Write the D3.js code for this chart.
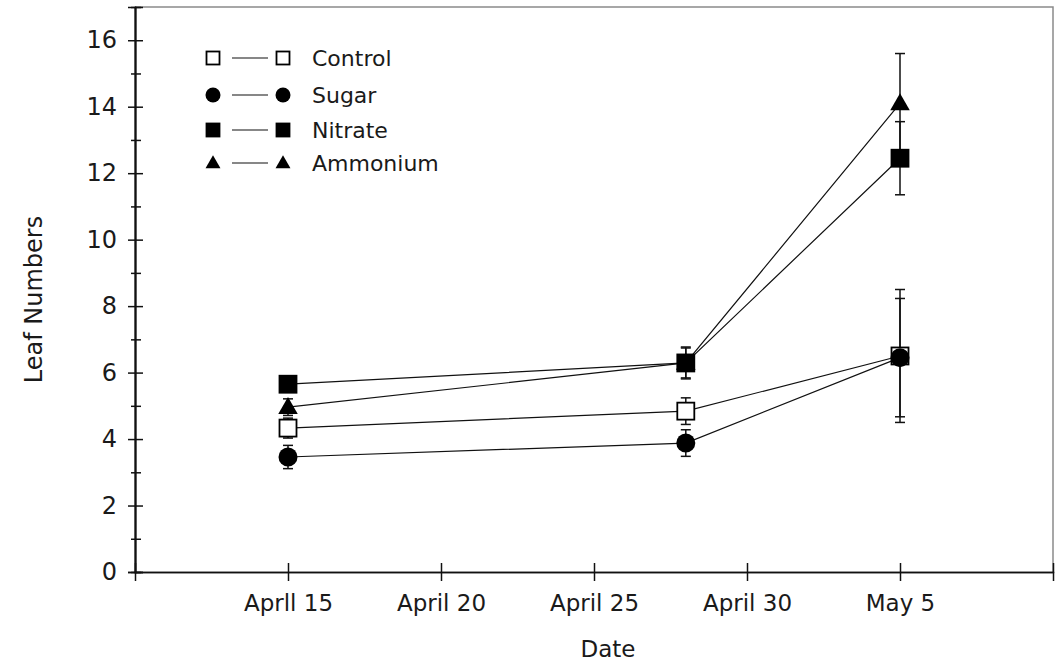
<!DOCTYPE html><html><head><meta charset="UTF-8"><script src="https://d3js.org/d3.v7.min.js"></script><style>
body { margin: 0; background: #fff; }
svg { font-family: "DejaVu Sans", "Noto Sans", sans-serif; }
.lbl { fill: #1a1a1a; }
</style></head><body><div id="chart"></div><script>
const dates = ["1990-04-15", "1990-04-28", "1990-05-05"];
const seriesNames = ["Control", "Sugar", "Nitrate", "Ammonium"];
const control = [4.33, 4.84, 6.5];
const controlErr = [0.3, 0.4, 2.0];
const sugar = [3.46, 3.88, 6.45];
const sugarErr = [0.35, 0.4, 1.78];
const nitrate = [5.65, 6.29, 12.45];
const nitrateErr = [0.2, 0.48, 1.1];
const ammonium = [4.96, 6.29, 14.1];
const ammoniumErr = [0.25, 0.45, 1.5];
const xTickDates = ["1990-04-15", "1990-04-20", "1990-04-25", "1990-04-30", "1990-05-05"];
const xTickLabels = ["Aprll 15", "April 20", "April 25", "April 30", "May 5"];
const yMajor = [0, 2, 4, 6, 8, 10, 12, 14, 16];
const yMinor = [1, 3, 5, 7, 9, 11, 13, 15];

const parse = d3.timeParse("%Y-%m-%d");
const W = 1061, H = 664;
const pL = 135, pR = 1053, pT = 7, pB = 572;

const svg = d3.select("#chart").append("svg").attr("width", W).attr("height", H);

const x = d3.scaleTime().domain([parse("1990-04-10"), parse("1990-05-10")]).range([pL, pR]);
const y = d3.scaleLinear().domain([0, 17]).range([pB, pT]);

// frame top + right
svg.append("path")
    .attr("d", `M${pL},${pT}H${pR}V${pB}`)
    .attr("fill", "none").attr("stroke", "#8a8a8a").attr("stroke-width", 1.5);

// y axis with crossing ticks
const yAx = svg.append("g").attr("transform", `translate(${pL},0)`)
    .call(d3.axisLeft(y).tickValues(yMajor).tickSize(7).tickPadding(11).tickFormat(d3.format("d")));
svg.append("g").attr("transform", `translate(${pL},0)`)
    .call(d3.axisRight(y).tickValues(yMajor).tickSize(8).tickFormat(""));
svg.append("g").attr("transform", `translate(${pL},0)`)
    .call(d3.axisLeft(y).tickValues(yMinor).tickSize(4).tickFormat(""));
svg.append("g").attr("transform", `translate(${pL},0)`)
    .call(d3.axisRight(y).tickValues(yMinor).tickSize(6).tickFormat(""));

// x axis with crossing ticks
const xAx = svg.append("g").attr("transform", `translate(0,${pB})`)
    .call(d3.axisBottom(x).tickValues(xTickDates.map(parse)).tickSize(9).tickPadding(14)
        .tickFormat((d, i) => xTickLabels[i]));
svg.append("g").attr("transform", `translate(0,${pB})`)
    .call(d3.axisTop(x).tickValues(xTickDates.map(parse)).tickSize(9).tickFormat(""));

svg.selectAll(".domain").attr("stroke", "#111").attr("stroke-width", 1.5);
svg.selectAll(".tick line").attr("stroke", "#111").attr("stroke-width", 1.5);
yAx.selectAll("text").attr("font-size", 24).attr("fill", "#1a1a1a").attr("font-family", "DejaVu Sans");
xAx.selectAll("text").attr("font-size", 23).attr("fill", "#1a1a1a").attr("font-family", "DejaVu Sans");

// axis titles
svg.append("text").attr("class", "lbl")
    .attr("transform", `translate(42,${(pT + pB) / 2 + 10}) rotate(-90)`)
    .attr("text-anchor", "middle").attr("font-size", 24).text("Leaf Numbers");
svg.append("text").attr("class", "lbl")
    .attr("x", 608).attr("y", 657)
    .attr("text-anchor", "middle").attr("font-size", 23).text("Date");

const series = [
    { name: seriesNames[0], vals: control, err: controlErr, shape: "square", fill: "#fff" },
    { name: seriesNames[1], vals: sugar, err: sugarErr, shape: "circle", fill: "#000" },
    { name: seriesNames[2], vals: nitrate, err: nitrateErr, shape: "square", fill: "#000" },
    { name: seriesNames[3], vals: ammonium, err: ammoniumErr, shape: "triangle", fill: "#000" }
];

function marker(g, s, size) {
    if (s.shape === "square") {
        g.append("rect").attr("x", -size / 2).attr("y", -size / 2)
            .attr("width", size).attr("height", size)
            .attr("fill", s.fill).attr("stroke", "#000").attr("stroke-width", 1.8);
    } else if (s.shape === "circle") {
        g.append("circle").attr("r", size / 2 + 1).attr("fill", s.fill);
    } else {
        const w = size * 1.15, h = size;
        g.append("path")
            .attr("d", `M0,${-h * 0.6}L${w / 2},${h * 0.4}L${-w / 2},${h * 0.4}Z`)
            .attr("fill", s.fill);
    }
}

const line = d3.line().x((d, i) => x(parse(dates[i]))).y(d => y(d));

// lines
series.forEach(s => {
    svg.append("path").datum(s.vals).attr("d", line)
        .attr("fill", "none").attr("stroke", "#111").attr("stroke-width", 1.2);
});

// error bars
series.forEach(s => {
    const g = svg.append("g");
    s.vals.forEach((v, i) => {
        const cx = x(parse(dates[i]));
        const y0 = y(v - s.err[i]), y1 = y(v + s.err[i]);
        g.append("line").attr("x1", cx).attr("x2", cx).attr("y1", y0).attr("y2", y1)
            .attr("stroke", "#111").attr("stroke-width", 1.5);
        [y0, y1].forEach(yy => g.append("line")
            .attr("x1", cx - 5).attr("x2", cx + 5).attr("y1", yy).attr("y2", yy)
            .attr("stroke", "#111").attr("stroke-width", 1.5));
    });
});

// markers
series.forEach(s => {
    s.vals.forEach((v, i) => {
        const g = svg.append("g").attr("transform", `translate(${x(parse(dates[i]))},${y(v)})`);
        marker(g, s, 17);
    });
});

// legend
const legY = [58, 95, 130, 163];
series.forEach((s, i) => {
    const g = svg.append("g").attr("transform", `translate(0,${legY[i]})`);
    marker(g.append("g").attr("transform", "translate(213,0)"), s, 13);
    g.append("line").attr("x1", 232).attr("x2", 268).attr("y1", 0).attr("y2", 0)
        .attr("stroke", "#111").attr("stroke-width", 1.2);
    marker(g.append("g").attr("transform", "translate(283,0)"), s, 13);
    g.append("text").attr("class", "lbl").attr("x", 312).attr("y", 8)
        .attr("font-size", 22).text(s.name);
});
</script></body></html>
